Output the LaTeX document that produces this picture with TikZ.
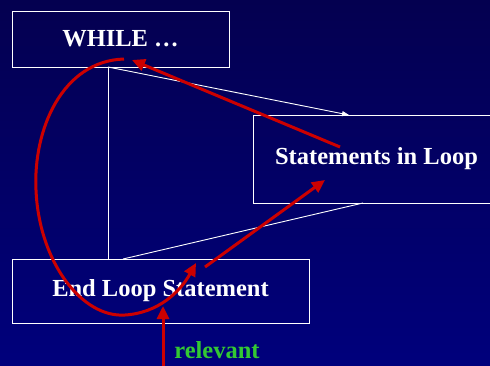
\documentclass[tikz,border=0pt]{standalone}
\usepackage{fontspec}
\setmainfont{Liberation Serif}
\usetikzlibrary{arrows.meta}
\definecolor{bgtop}{RGB}{4,0,80}
\definecolor{bgbot}{RGB}{0,0,124}
\definecolor{redarr}{RGB}{204,0,0}
\definecolor{greentxt}{RGB}{51,200,51}
\tikzset{
  box/.style={draw=white, line width=1pt, inner sep=0pt, text=white,
    font=\fontsize{24.5}{27}\selectfont\bfseries},
  wline/.style={draw=white, line width=0.9pt},
  rarrow/.style={draw=redarr, line width=3pt,
    -{Triangle[length=13pt,width=12pt]}},
}
\begin{document}
\begin{tikzpicture}[x=1pt,y=-1pt]
\shade[top color=bgtop, bottom color=bgbot] (0,0) rectangle (490,365);
\useasboundingbox (0,0) rectangle (490,365);
\node[box, minimum width=217pt, minimum height=56pt] (while) at (120.5,39) {WHILE \dots};
\node[box, minimum width=247pt, minimum height=88pt] (stmts) at (376.5,159) {Statements in Loop};
\node[box, minimum width=297pt, minimum height=64pt] (endl) at (160.5,291) {End Loop Statement};
\node[text=greentxt, font=\fontsize{24.5}{27}\selectfont\bfseries, inner sep=0pt] (rel) at (217,350) {relevant};
% white connectors
\coordinate (w1) at (108,67);
\coordinate (w2) at (108,259);
\coordinate (s1) at (349,115);
\coordinate (e1) at (123,259);
\coordinate (s2) at (363,203);
\draw[wline] (w1) -- (w2);
\draw[wline, -{Triangle[length=7pt,width=5pt]}] (w1) -- (s1);
\draw[wline] (e1) -- (s2);
% red arrows
\coordinate (r1a) at (340,147);
\coordinate (r1b) at (132,60);
\draw[rarrow] (r1a) -- (r1b);
\coordinate (r2a) at (205,267);
\coordinate (r2b) at (325,180);
\draw[rarrow] (r2a) -- (r2b);
\coordinate (r3a) at (124,59);
\coordinate (r3b) at (196,263);
\draw[rarrow] (r3a) .. controls (62,61) and (33,130) .. (36,190)
  .. controls (39,262) and (82,318) .. (125,315)
  .. controls (158,313) and (180,292) .. (r3b);
\coordinate (r4a) at (163,368);
\coordinate (r4b) at (163,306);
\draw[rarrow] (r4a) -- (r4b);
\end{tikzpicture}
\end{document}
